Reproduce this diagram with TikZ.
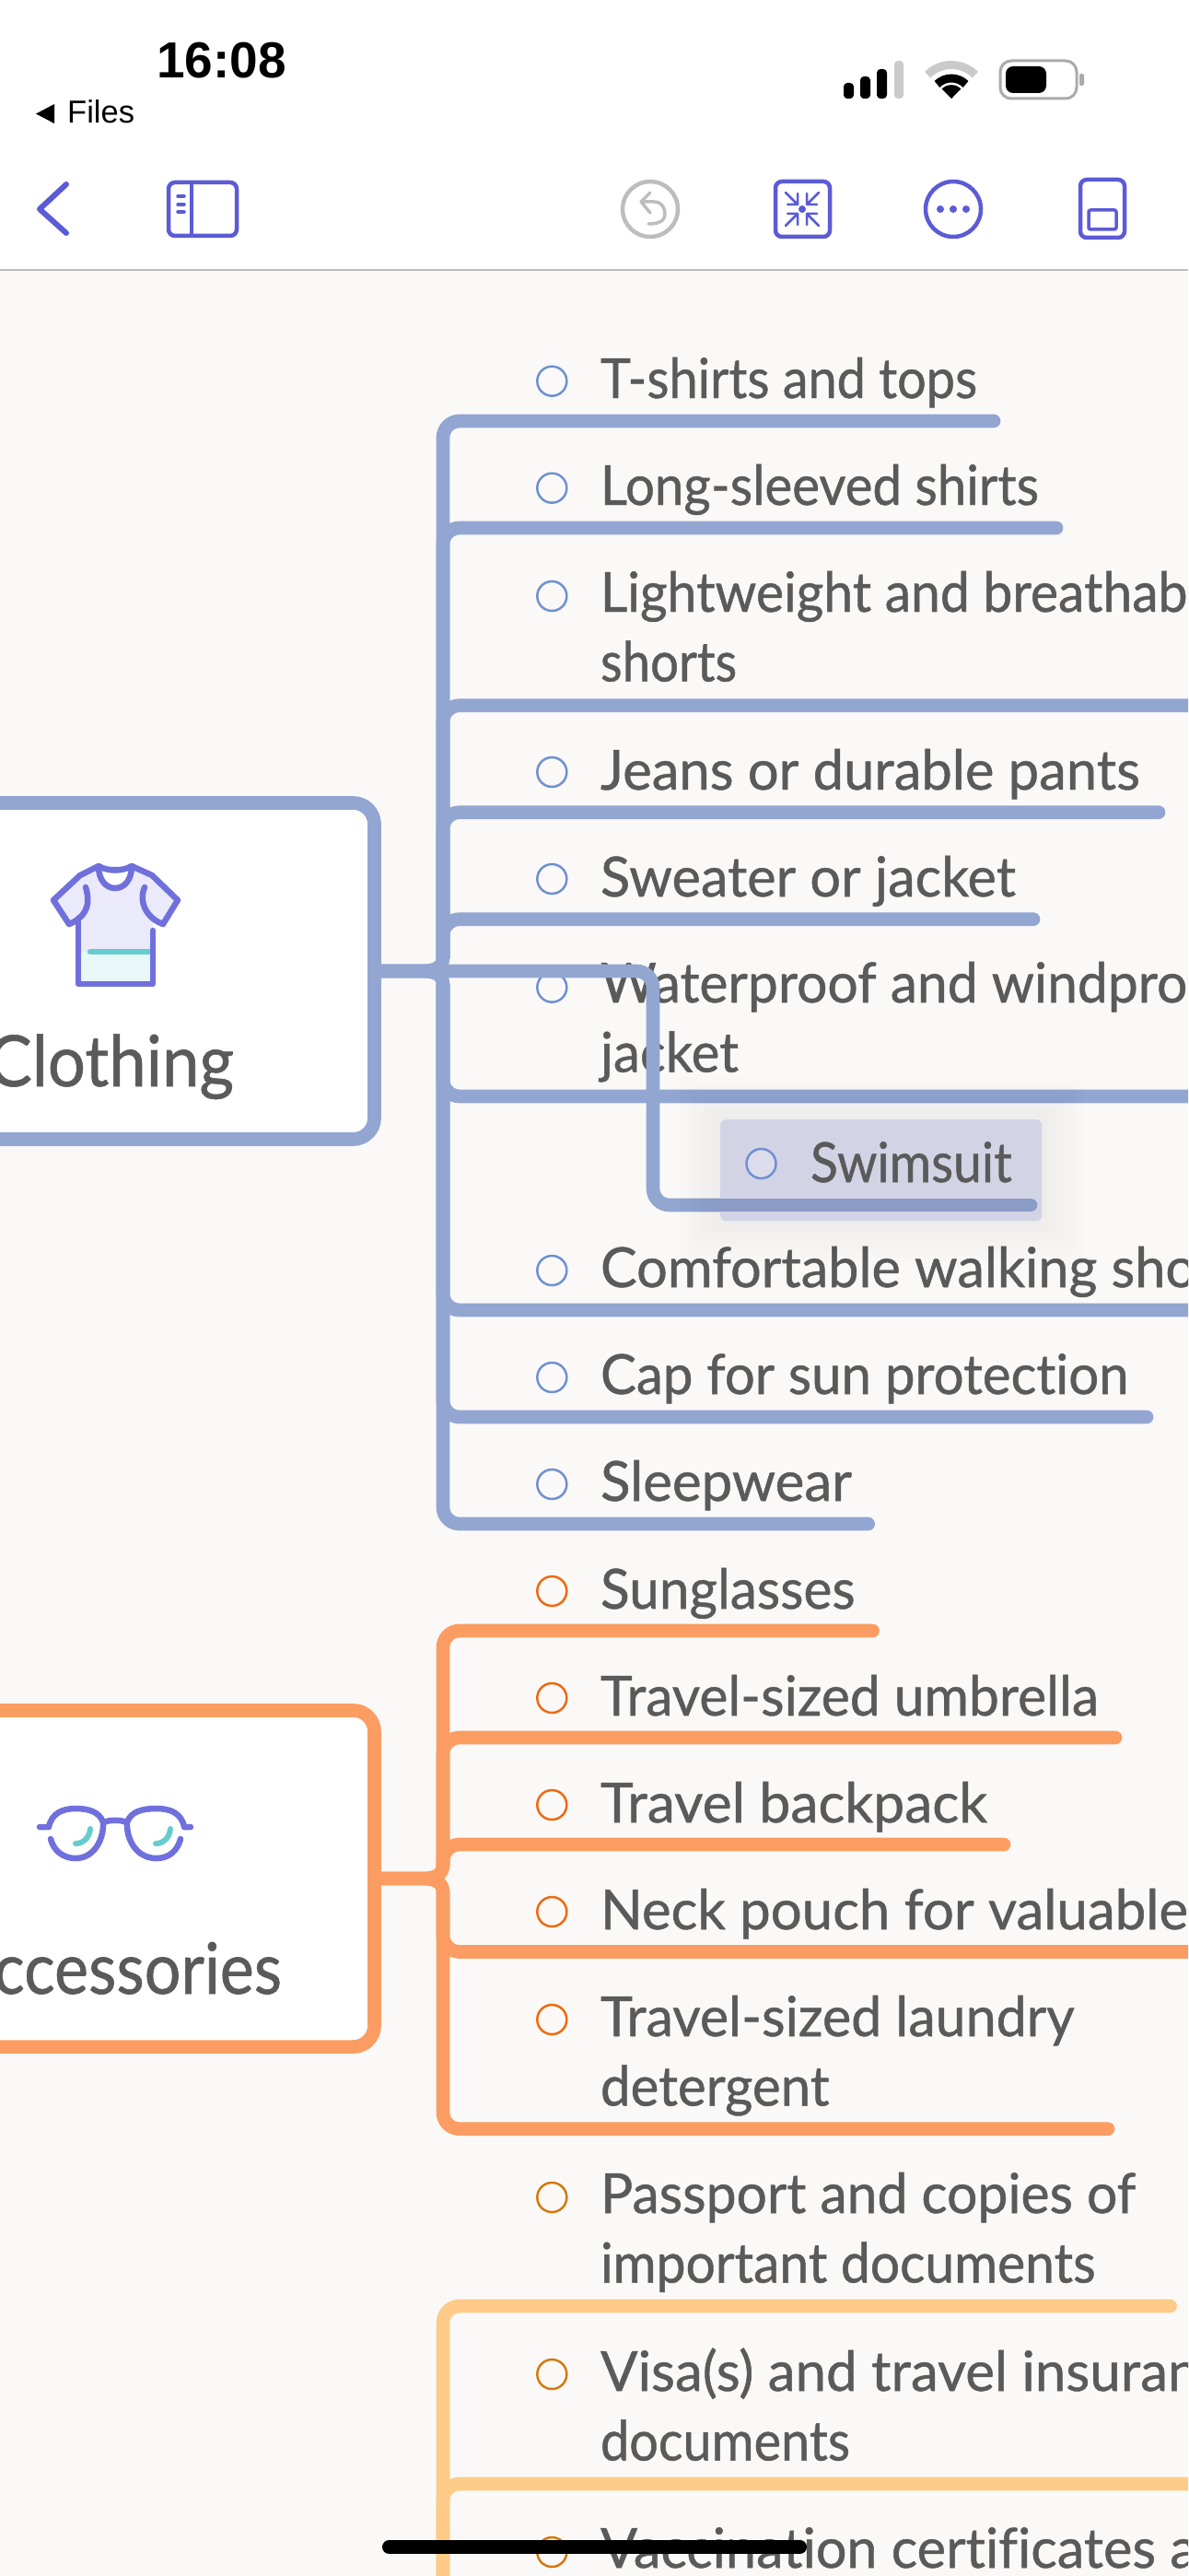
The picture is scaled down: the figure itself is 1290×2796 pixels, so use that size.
\documentclass[tikz,border=0pt]{standalone}
\usepackage{fontspec}
\setmainfont[Ligatures=NoCommon,FakeBold=0.8]{Lato}
\newfontfamily\sysfont{Liberation Sans}
\newcommand\sx[2]{\scalebox{#1}[1]{#2}}
\definecolor{bgc}{HTML}{FAF9F8}
\definecolor{blu}{HTML}{92A6D1}
\definecolor{blud}{HTML}{8B9CC6}
\definecolor{org}{HTML}{FB9D62}
\definecolor{lorg}{HTML}{FFCB88}
\definecolor{txt}{HTML}{5A5A5A}
\definecolor{bub}{HTML}{7090D0}
\definecolor{buo}{HTML}{EE6A10}
\definecolor{bud}{HTML}{D4790F}
\definecolor{ico}{HTML}{5B5BD6}
\definecolor{ico2}{HTML}{7070DD}
\definecolor{teal}{HTML}{66CCD0}
\definecolor{gry}{HTML}{BDBDBD}
\definecolor{swb}{HTML}{D3D3E6}
\definecolor{swc}{HTML}{DCDCEC}
\tikzset{
 brn/.style={line width=14.7pt,line cap=round,line join=round,rounded corners=18pt},
 rootbox/.style={draw,fill=white,line width=14.7pt,rounded corners=23pt,outer sep=0pt,inner sep=0pt,minimum width=560pt},
 lab/.style={anchor=base west,inner sep=0pt,outer sep=0pt,align=left,text=txt,font=\fontsize{60}{75.5}\selectfont},
 rootlab/.style={anchor=base east,inner sep=0pt,outer sep=0pt,text=txt,font=\fontsize{77}{90}\selectfont},
 bul/.style={circle,draw,line width=2.5pt,inner sep=0pt,outer sep=0pt,minimum size=32pt},
 icn/.style={draw=ico,line width=4.5pt,line cap=round,line join=round},
 shirt/.style={draw=ico2,line width=6.5pt,line cap=round,line join=round},
}
\begin{document}
\begin{tikzpicture}[x=1pt,y=-1pt]
\useasboundingbox (0,0) rectangle (1290,2796);
\clip (0,0) rectangle (1290,2796);
\fill[bgc] (0,0) rectangle (1290,2796);
% top bar
\fill[white] (0,0) rectangle (1290,292);
\draw[gry,line width=2pt] (0,293) -- (1290,293);
\node[anchor=base west,inner sep=0pt,font=\sysfont\bfseries\fontsize{55}{60}\selectfont] (clock) at (170,85) {16:08};
\fill (39,123.5) -- (59,113) -- (59,134) -- cycle;
\node[anchor=base west,inner sep=0pt,font=\sysfont\fontsize{34.5}{36}\selectfont] (files) at (73,134) {Files};
% signal
\fill[rounded corners=4pt] (916,90) rectangle (927,107);
\fill[rounded corners=4pt] (934,83) rectangle (945,107);
\fill[rounded corners=4pt] (952,75) rectangle (963,107);
\fill[gry!80,rounded corners=4pt] (971,66) rectangle (981,107);
% wifi
\draw[gry!80,line width=9pt] (1033,107)+(225:36.5) arc (225:315:36.5);
\draw[line width=9pt] (1033,107)+(225:22) arc (225:315:22);
\fill (1033,107) -- (1022.5,96.5) arc (225:315:14.8) -- cycle;
% battery
\draw[gry!90!black,line width=3pt,rounded corners=12pt] (1086,66) rectangle (1169,107);
\fill[rounded corners=8pt] (1092,72) rectangle (1136,101);
\fill[gry!90!black,rounded corners=2pt] (1172,80) rectangle (1177,93);
% toolbar
\draw[icn,line width=6pt] (72,200) -- (43,227) -- (72,253);
\draw[icn,rounded corners=7pt] (183,198) rectangle (257,256);
\draw[icn,line width=3.5pt] (208,198) -- (208,256);
\draw[icn,line width=3.5pt] (193,213) -- (200,213) (193,222) -- (200,222) (193,230) -- (200,230);
\draw[gry,line width=4.5pt] (706,227) circle[radius=30];
\draw[gry,line width=3.5pt,line cap=round,line join=round] (706,209) -- (696,219) -- (706,231) (696,219) -- (710,219) .. controls (720,219) and (722,228) .. (722,232) .. controls (722,240) and (715,243) .. (704,243);
\draw[icn,rounded corners=7pt] (842,197) rectangle (901,257);
\fill[ico] (871,227) circle[radius=4];
\begin{scope}[ico,line width=2.5pt,line cap=round,line join=round]
\draw (853,209) -- (866,222) (866,210) -- (866,222) -- (855,222);
\draw (889,209) -- (876,222) (876,210) -- (876,222) -- (887,222);
\draw (853,245) -- (866,232) (866,244) -- (866,232) -- (855,232);
\draw (889,245) -- (876,232) (876,244) -- (876,232) -- (887,232);
\end{scope}
\draw[icn] (1035,227) circle[radius=30];
\fill[ico] (1021,227) circle[radius=4] (1035,227) circle[radius=4] (1049,227) circle[radius=4];
\draw[icn,rounded corners=7pt] (1173,195) rectangle (1221,258);
\draw[icn,line width=3.5pt,rounded corners=2pt] (1182,228) rectangle (1212,249);
% coordinates of junctions and branch ends
\coordinate (bA) at (458,1054);
\coordinate (cU) at (481,1039);
\coordinate (cD) at (481,1069);
\coordinate (oA) at (458,2039);
\coordinate (oU) at (481,2024);
\coordinate (oD) at (481,2054);
\coordinate (lD) at (481,2850);
\coordinate (e1) at (1079,457);
\coordinate (e2) at (1147,573);
\coordinate (e3) at (1310,765.7);
\coordinate (e4) at (1258,881.7);
\coordinate (e5) at (1122,997.7);
\coordinate (e6) at (1310,1190);
\coordinate (e7) at (1310,1422);
\coordinate (e8) at (1245,1538);
\coordinate (e9) at (942.6,1654);
\coordinate (f1) at (947.5,1770);
\coordinate (f2) at (1211,1886);
\coordinate (f3) at (1090,2002);
\coordinate (f4) at (1310,2118.5);
\coordinate (f5) at (1203,2310.7);
\coordinate (g1) at (1270.6,2503);
\coordinate (g2) at (1310,2696);
\coordinate (sw) at (709,1054);
\coordinate (se) at (1119,1308);
% root boxes
\node[rootbox,draw=blu,minimum height=365pt] (clothing) at (126.5,1054) {};
\node[rootbox,draw=org,minimum height=365.2pt] (accessories) at (126.5,2039) {};
% branches
\foreach \e in {e1,e2,e3,e4,e5}{\draw[brn,blu] (cU) |- (\e);}
\foreach \e in {e6,e7,e8,e9}{\draw[brn,blu] (cD) |- (\e);}
\draw[brn,blu,rounded corners=0pt] (clothing.east) -- (bA) .. controls +(16,0) and +(0,10) .. (cU);
\draw[brn,blu,rounded corners=0pt] (clothing.east) -- (bA) .. controls +(16,0) and +(0,-10) .. (cD);
\foreach \e in {f1,f2,f3}{\draw[brn,org] (oU) |- (\e);}
\foreach \e in {f4,f5}{\draw[brn,org] (oD) |- (\e);}
\draw[brn,org,rounded corners=0pt] (accessories.east) -- (oA) .. controls +(16,0) and +(0,10) .. (oU);
\draw[brn,org,rounded corners=0pt] (accessories.east) -- (oA) .. controls +(16,0) and +(0,-10) .. (oD);
\foreach \e in {g1,g2}{\draw[brn,lorg] (lD) |- (\e);}
% root labels
\node[rootlab] (tClothing) at (254,1179) {\sx{.94}{Clothing}};
\node[rootlab] (tAccessories) at (306,2164) {\sx{.91}{ccessories}};
% shirt icon
\fill[ico2!15!white] (107,940) -- (87,950) -- (58,977) -- (75,1003) -- (87,996) -- (85,1033) -- (166,1033) -- (166,1000) -- (177,1003) -- (193,977) -- (165,950) -- (143,940) -- cycle;
\fill[teal!15!white] (85,1033) rectangle (166,1068);
\fill[white] (107,940) .. controls (117,946) and (133,946) .. (143,940) .. controls (143,955) and (135,964) .. (125,964) .. controls (115,964) and (107,955) .. (107,940);
\draw[teal,line width=6.5pt,line cap=round] (98,1033) -- (163,1033);
\draw[shirt] (85,997) -- (85,1068) -- (166,1068) -- (166,1010);
\draw[shirt] (75,1003) -- (58,977) -- (87,950) -- (107,940) .. controls (117,946) and (133,946) .. (143,940) -- (165,950) -- (193,977) -- (177,1003);
\draw[shirt] (75,1003) .. controls (90,997) and (100,985) .. (93,963);
\draw[shirt] (177,1003) .. controls (160,997) and (150,980) .. (157,963);
\draw[shirt] (107,940) .. controls (107,955) and (115,964) .. (125,964) .. controls (135,964) and (143,955) .. (143,940);
% glasses icon
\draw[teal,line width=6pt,line cap=round] (82,2001) .. controls (90,2001) and (97,1995) .. (98,1985);
\draw[teal,line width=6pt,line cap=round] (169,2001) .. controls (177,2001) and (184,1995) .. (185,1985);
\draw[shirt] (43,1983) -- (53,1983) .. controls (56,1968) and (68,1963) .. (82,1963) .. controls (95,1963) and (108,1966) .. (112,1978) .. controls (113,1995) and (103,2017) .. (82,2017) .. controls (68,2017) and (58,2008) .. (55,1996);
\draw[shirt] (112,1978) .. controls (120,1975) and (130,1975) .. (138,1978);
\draw[shirt] (207,1983) -- (200,1983) .. controls (197,1968) and (185,1963) .. (170,1963) .. controls (155,1963) and (142,1966) .. (138,1978) .. controls (137,1995) and (147,2017) .. (170,2017) .. controls (184,2017) and (193,2008) .. (196,1996);
% items
\newcommand\itm[5]{\node[bul,draw=#3] (b#1) at (599.3,#2) {}; \node[lab] (t#1) at (652,#4) {#5};}
\itm{a}{413.7}{bub}{432}{\sx{.93}{T-shirts and tops}}
\itm{b}{529.7}{bub}{548}{\sx{.94}{Long-sleeved shirts}}
\itm{c}{647}{bub}{739.5}{\sx{.95}{Lightweight and breathab}\\\sx{.91}{shorts}}
\itm{d}{838}{bub}{857}{\sx{.995}{Jeans or durable pants}}
\itm{e}{954}{bub}{973}{\sx{.99}{Sweater or jacket}}
\itm{f}{1071.7}{bub}{1163.5}{\sx{.98}{Waterproof and windpro}\\\sx{.97}{jacket}}
\itm{h}{1379}{bub}{1397}{\sx{.99}{Comfortable walking sho}}
\itm{i}{1495}{bub}{1513}{\sx{.97}{Cap for sun protection}}
\itm{j}{1611}{bub}{1629}{Sleepwear}
\itm{k}{1727}{buo}{1746}{\sx{.975}{Sunglasses}}
\itm{l}{1843}{buo}{1862}{\sx{.98}{Travel-sized umbrella}}
\itm{m}{1959}{buo}{1978}{\sx{1.01}{Travel backpack}}
\itm{n}{2075}{buo}{2094}{Neck pouch for valuable}
\itm{o}{2192}{buo}{2285.5}{\sx{.985}{Travel-sized laundry}\\\sx{.97}{detergent}}
\itm{p}{2385}{bud}{2477.5}{\sx{.98}{Passport and copies of}\\\sx{.95}{important documents}}
\itm{q}{2577}{bud}{2670.5}{Visa(s) and travel insuran\\\sx{.93}{documents}}
\itm{r}{2770}{bud}{2787}{\sx{.99}{Vaccination certificates a}}
% dragged branch and item
\draw[brn,blu] (clothing.east) -- (sw) |- (se);
\foreach \d in {4,8,...,48}{\fill[black,opacity=.005,rounded corners=8pt] (782-\d,1215-\d) rectangle (1131+\d,1325+\d);}
\node[fill=swb,rounded corners=6pt,anchor=north west,inner sep=0pt,minimum width=349pt,minimum height=110pt] (swbox) at (782,1215) {};
\draw[blud,line width=14.7pt,line cap=round] (swbox.west |- se) -- (se);
\node[bul,draw=bub,fill=swc] (bg) at (826.5,1263) {};
\node[lab] (tg) at (880,1283) {\sx{.92}{Swimsuit}};
% home indicator
\draw[line width=15pt,line cap=round] (422.5,2764.5) -- (868.5,2764.5);
\end{tikzpicture}
\end{document}
